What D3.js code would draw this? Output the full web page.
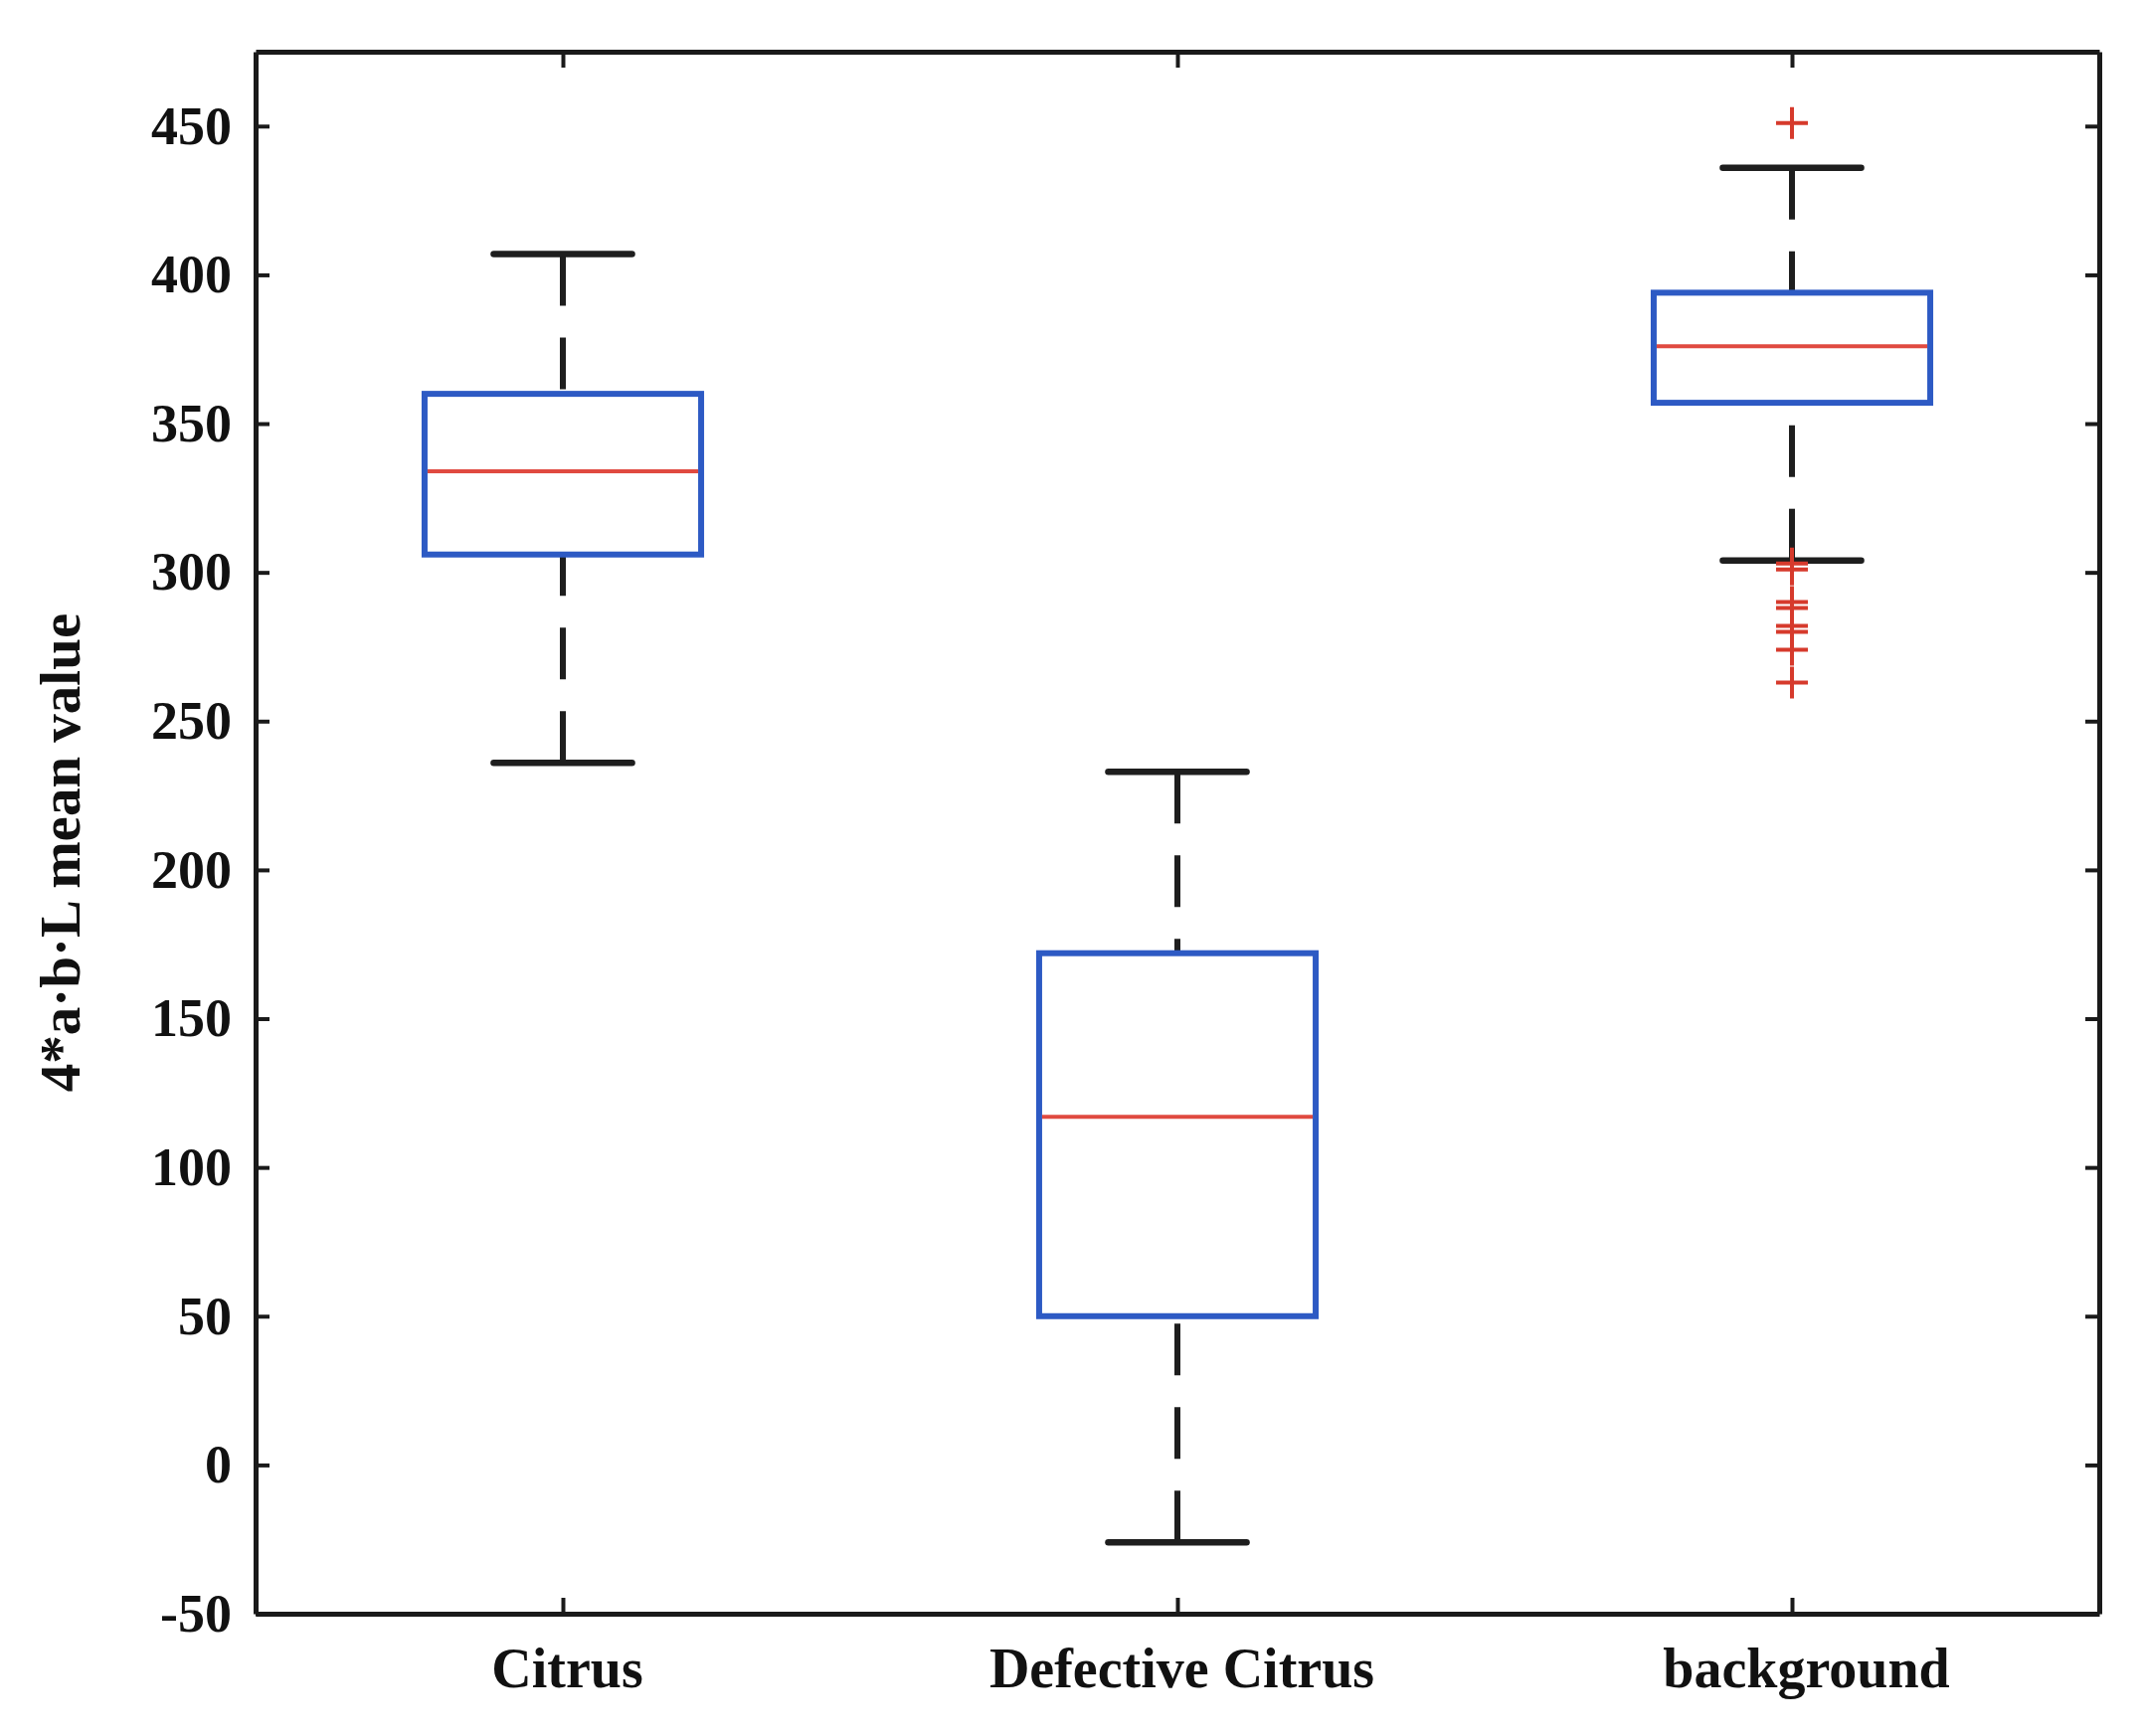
<!DOCTYPE html>
<html>
<head>
<meta charset="utf-8">
<script src="https://cdn.jsdelivr.net/npm/d3@7"></script>
<style>
  body { margin: 0; background: #fff; }
  text { font-family: "Liberation Serif", "Times New Roman", serif; font-weight: bold; fill: #111; }
</style>
</head>
<body>
<svg width="2156" height="1746"></svg>
<script>
// data
var categories = ["Citrus", "Defective Citrus", "background"]
var whiskerLow = [236, -26, 304]
var q1 = [306, 50, 357]
var median = [334, 117, 376]
var q3 = [360, 172, 394]
var whiskerHigh = [407, 233, 436]
// outliers only for background
var outlierGroup = ["background", "background", "background", "background", "background", "background", "background", "background", "background"]
var outlierValues = [451, 303, 301, 290, 288, 282, 280, 274, 263]
var yTicks = [-50, 0, 50, 100, 150, 200, 250, 300, 350, 400, 450]

var svg = d3.select("svg"),
    margin = {top: 52, right: 45, bottom: 123, left: 257},
    width = +svg.attr("width") - margin.left - margin.right,
    height = +svg.attr("height") - margin.top - margin.bottom

var g = svg.append("g").attr("transform", "translate(" + margin.left + "," + margin.top + ")")

var x = d3.scalePoint().domain(categories).range([0, width]).padding(0.5)
var y = d3.scaleLinear().domain([-50, 475]).range([height, 0])

var boxW = x.step() * 0.45
var capW = boxW / 2

var boxes = categories.map(function(c, i) {
  return {name: c, lo: whiskerLow[i], q1: q1[i], med: median[i], q3: q3[i], hi: whiskerHigh[i]}
})

// axes: ticks point inward on all four sides
function styleAxis(sel) {
  sel.select(".domain").attr("stroke", "#1a1a1a").attr("stroke-width", 5)
  sel.selectAll(".tick line").attr("stroke", "#1a1a1a").attr("stroke-width", 4)
  sel.selectAll("text").attr("fill", "#111")
}

// plain hyphen for negatives, like the original
g.append("g")
  .call(d3.axisLeft(y).tickValues(yTicks).tickSize(-14).tickPadding(24).tickSizeOuter(0)
    .tickFormat(function(d) { return String(d) }))
  .call(styleAxis)
  .selectAll("text").style("font-size", "54px").style("font-family", "Liberation Serif").style("font-weight", "bold")

g.append("g").attr("transform", "translate(" + width + ",0)")
  .call(d3.axisRight(y).tickValues(yTicks).tickSize(-14).tickFormat("").tickSizeOuter(0))
  .call(styleAxis)

g.append("g")
  .call(d3.axisTop(x).tickSize(-16).tickFormat("").tickSizeOuter(0))
  .call(styleAxis)

g.append("g").attr("transform", "translate(0," + height + ")")
  .call(d3.axisBottom(x).tickSize(-16).tickPadding(34).tickSizeOuter(0))
  .call(styleAxis)
  .selectAll("text").style("font-size", "56px").style("font-family", "Liberation Serif").style("font-weight", "bold")
  .attr("dx", function(d) { return d === "background" ? 14 : 4 })

// y axis title
svg.append("text")
  .attr("transform", "translate(80," + (margin.top + height / 2 + 20) + ") rotate(-90)")
  .attr("text-anchor", "middle")
  .style("font-size", "57px")
  .text("4*a·b·L mean value")

var box = g.selectAll(".box").data(boxes).enter().append("g")
  .attr("class", "box")
  .attr("transform", function(d) { return "translate(" + x(d.name) + ",0)" })

// dashed whiskers, dashes start at the caps
box.append("line")
  .attr("x1", 0).attr("x2", 0)
  .attr("y1", function(d) { return y(d.hi) }).attr("y2", function(d) { return y(d.q3) })
  .attr("stroke", "#1e1e1e").attr("stroke-width", 6).attr("stroke-dasharray", "52,32")
box.append("line")
  .attr("x1", 0).attr("x2", 0)
  .attr("y1", function(d) { return y(d.lo) }).attr("y2", function(d) { return y(d.q1) })
  .attr("stroke", "#1e1e1e").attr("stroke-width", 6).attr("stroke-dasharray", "52,32")

// caps
box.selectAll(".cap").data(function(d) { return [d.lo, d.hi] }).enter().append("line")
  .attr("x1", -capW / 2).attr("x2", capW / 2)
  .attr("y1", function(v) { return y(v) }).attr("y2", function(v) { return y(v) })
  .attr("stroke", "#1e1e1e").attr("stroke-width", 6.5).attr("stroke-linecap", "round")

box.append("rect")
  .attr("x", -boxW / 2).attr("width", boxW)
  .attr("y", function(d) { return y(d.q3) })
  .attr("height", function(d) { return y(d.q1) - y(d.q3) })
  .attr("fill", "none").attr("stroke", "#2d5ac4").attr("stroke-width", 6)

box.append("line")
  .attr("x1", -boxW / 2 + 3).attr("x2", boxW / 2 - 3)
  .attr("y1", function(d) { return y(d.med) }).attr("y2", function(d) { return y(d.med) })
  .attr("stroke", "#e04a40").attr("stroke-width", 4)

// outlier plus markers
g.selectAll(".out").data(outlierValues).enter().append("path")
  .attr("class", "out")
  .attr("transform", function(v, i) { return "translate(" + x(outlierGroup[i]) + "," + y(v) + ")" })
  .attr("d", "M-16,0H16M0,-16V16")
  .attr("stroke", "#d63a2c").attr("stroke-width", 4).attr("fill", "none")
</script>
</body>
</html>
